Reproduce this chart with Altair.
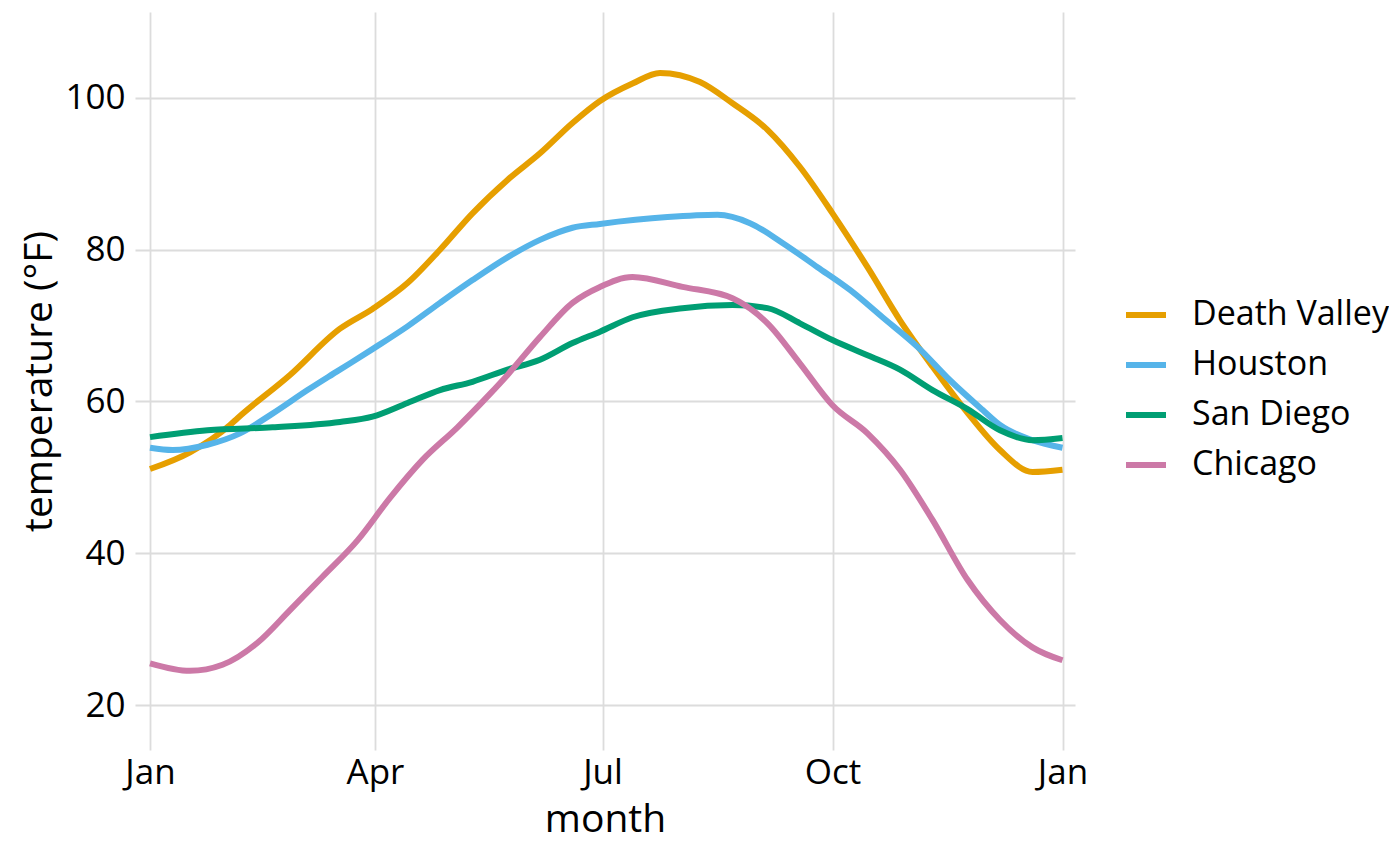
import altair as alt
import pandas as pd

cities = ["Death Valley", "Houston", "San Diego", "Chicago"]
colors = ["#E69F00", "#56B4E9", "#009E73", "#CC79A7"]

dv_day = [0, 16, 32, 35, 56, 76, 89, 103, 116, 129, 143, 156, 169, 180, 193, 204, 220, 233, 247, 260, 273, 287, 300, 313, 327, 340, 353, 365]
dv_temp = [51.1, 53.3, 56.9, 57.8, 63.5, 69.6, 72.2, 75.6, 80.0, 84.8, 89.2, 92.7, 96.7, 99.6, 101.9, 103.3, 102.1, 99.3, 95.8, 90.9, 84.8, 77.7, 70.7, 64.6, 58.5, 53.6, 50.7, 51.0]

ho_day = [0, 9, 23, 36, 49, 63, 75, 89, 103, 116, 129, 143, 156, 169, 180, 207, 227, 240, 253, 267, 280, 293, 307, 320, 333, 340, 353, 365]
ho_temp = [53.9, 53.6, 54.3, 55.8, 58.4, 61.5, 64.0, 66.9, 69.9, 73.0, 76.0, 79.0, 81.3, 82.9, 83.4, 84.3, 84.6, 83.5, 80.9, 77.7, 74.7, 71.1, 67.2, 62.8, 58.9, 56.9, 54.9, 53.9]

sd_day = [0, 23, 49, 76, 89, 103, 116, 129, 143, 156, 169, 180, 193, 213, 233, 247, 260, 273, 287, 300, 313, 327, 340, 353, 365]
sd_temp = [55.3, 56.2, 56.6, 57.3, 58.0, 59.8, 61.5, 62.6, 64.2, 65.5, 67.7, 69.2, 71.1, 72.3, 72.7, 72.3, 70.3, 68.1, 66.1, 64.2, 61.5, 59.0, 56.2, 54.9, 55.2]

ch_day = [0, 16, 29, 43, 56, 69, 83, 96, 109, 123, 136, 143, 156, 169, 180, 193, 213, 233, 247, 260, 273, 287, 300, 313, 327, 340, 353, 365]
ch_temp = [25.5, 24.5, 25.3, 28.2, 32.5, 36.9, 41.7, 47.3, 52.3, 56.6, 61.0, 63.5, 68.5, 73.0, 75.1, 76.4, 75.1, 73.6, 70.3, 65.0, 59.5, 55.8, 51.0, 44.4, 36.5, 31.2, 27.6, 25.9]

tick_days = [0, 90, 181, 273, 365]
tick_labels = ["Jan", "Apr", "Jul", "Oct", "Jan"]
y_ticks = [20, 40, 60, 80, 100]

series = [(cities[0], dv_day, dv_temp), (cities[1], ho_day, ho_temp),
          (cities[2], sd_day, sd_temp), (cities[3], ch_day, ch_temp)]
rows = []
for name, days, temps in series:
    for d, t in zip(days, temps):
        rows.append({"city": name, "day": d, "temp": t})
df = pd.DataFrame(rows)

label_expr = " : ".join(
    [f"datum.value == {d} ? '{l}'" for d, l in zip(tick_days, tick_labels)]
) + " : ''"

FONT = "Open Sans"

chart = alt.Chart(df).mark_line(strokeWidth=6, interpolate="monotone").encode(
    x=alt.X("day:Q", title="month",
            scale=alt.Scale(domain=[-6, 370], nice=False, zero=False),
            axis=alt.Axis(values=tick_days, labelExpr=label_expr, domain=False, ticks=False,
                          labelFontSize=35, titleFontSize=39, labelPadding=5, titlePadding=10,
                          labelColor="#000000", titleColor="#000000", titleFontWeight="normal",
                          gridColor="#dcdcdc", gridWidth=1.8, labelFont=FONT, titleFont=FONT)),
    y=alt.Y("temp:Q", title="temperature (°F)",
            scale=alt.Scale(domain=[14.07, 111.33], nice=False, zero=False),
            axis=alt.Axis(values=y_ticks, domain=False, ticks=False,
                          labelFontSize=35, titleFontSize=39, labelPadding=10, titlePadding=5,
                          labelColor="#000000", titleColor="#000000", titleFontWeight="normal",
                          gridColor="#dcdcdc", gridWidth=1.8, labelFont=FONT, titleFont=FONT)),
    color=alt.Color("city:N", sort=cities, title=None,
                    scale=alt.Scale(domain=cities, range=colors),
                    legend=alt.Legend(orient="none", legendX=988, legendY=280,
                                      symbolType="stroke", symbolSize=1600, symbolStrokeWidth=6,
                                      labelFontSize=34, labelFont=FONT, labelColor="#000000",
                                      labelLimit=0, labelOffset=23, rowPadding=10, padding=0)),
).properties(
    width=940, height=738,
    padding={"left": 127, "top": 4, "right": 314, "bottom": 96},
    autosize=alt.AutoSizeParams(type="none"),
).configure_view(stroke=None)

chart.save("out.html", embed_options={"renderer": "svg", "actions": False})
